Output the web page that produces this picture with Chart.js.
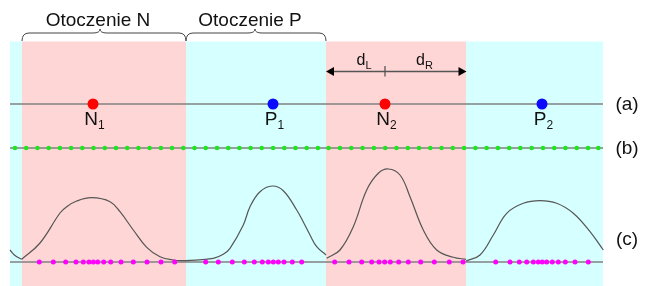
<!DOCTYPE html>
<html>
<head>
<meta charset="utf-8">
<script src="https://cdn.jsdelivr.net/npm/chart.js@4.4.1/dist/chart.umd.min.js"></script>
<style>
  html,body{margin:0;padding:0;background:#fff;}
  #c{display:block;}
</style>
</head>
<body>
<canvas id="c" width="652" height="286"></canvas>
<script>
// diagram space: x 0..652, y 0..286 (top down)
const bandEdges = [10, 22, 186, 326, 466, 603];
const bandKinds = ['P', 'N', 'P', 'N', 'P'];
const rowA = 104, rowB = 148, rowC = 262;

// (a) representatives
const nX = [93, 385];
const nSub = ['1', '2'];
const pX = [273, 542];
const pSub = ['1', '2'];

// (b) regular samples
const greenX = [15.0, 26.2, 37.4, 48.7, 59.9, 71.1, 82.3, 93.5, 104.8, 116.0, 127.2, 138.4, 149.6,
  160.9, 172.1, 183.3, 194.5, 205.7, 217.0, 228.2, 239.4, 250.6, 261.8, 273.1, 284.3, 295.5,
  306.7, 317.9, 328.6, 340.0, 351.3, 362.6, 373.9, 385.2, 396.5, 407.8, 419.0, 430.3, 441.6,
  452.8, 464.1, 475.4, 486.6, 497.9, 509.2, 520.4, 531.7, 543.0, 554.2, 565.5, 576.8, 588.0, 598.3];

// (c) adapted samples
const magentaX = [39.3, 53.3, 65.7, 76, 83.3, 89, 93.3, 97.7, 103.7, 110.7, 121, 133.3, 147, 161, 174.7,
  205.7, 218.3, 232.3, 244.3, 254.3, 262.3, 268.3, 273.3, 278.3, 284, 292.3, 301.7,
  334.7, 349, 361.7, 371.7, 379, 384.7, 390.3, 398.7, 408.3, 420.7, 434.3, 449.3, 463,
  495.7, 510, 519.3, 526.7, 533.3, 538.3, 542.3, 546.7, 552.3, 558.3, 565.3, 575, 588.3];

// density curves, one piece per band
const curveTail = [[10, 250], [15, 255.5], [21.7, 259.3]];
const curve1 = [[21.7, 259.3], [40, 243], [60, 213], [66.7, 206.7], [76.7, 201], [91.7, 197.7], [110, 201.7],
  [120, 211.7], [133.3, 230], [146.7, 247.3], [160, 256.7], [173.3, 260], [186, 260.7]];
const curve2 = [[186, 260.7], [213.3, 258.3], [223.3, 254.3], [230, 248.3], [243.3, 225], [250, 206.7],
  [260, 191.7], [272.3, 186], [283.3, 190.7], [296.7, 210], [303.3, 222], [310, 235], [316.7, 246.7], [326, 255]];
const curve3 = [[326.7, 258.3], [340, 250], [353.3, 226.7], [366.7, 190], [378.3, 173.3], [388.3, 169],
  [400, 175], [410, 196.7], [423.3, 230], [436.7, 250], [453.3, 257.3], [466, 259.3]];
const curve4 = [[466, 261], [480, 255], [493.3, 235], [506.7, 213.3], [523.3, 203.3], [540, 200.7],
  [556.7, 203.3], [573.3, 213.3], [590, 231.7], [603.3, 250]];

const FONT = '"Liberation Sans", Arial, sans-serif';

const pts = (xs, y) => xs.map(x => ({x: x, y: y}));
const xy = arr => arr.map(p => ({x: p[0], y: p[1]}));

function lineDs(data, color, width, order){
  return {type:'line', data:data, borderColor:color, borderWidth:width, pointRadius:0,
    fill:false, tension:0.4, order:order};
}
function dotDs(data, color, r){
  return {type:'scatter', data:data, backgroundColor:color, borderWidth:0, pointRadius:r,
    pointHoverRadius:r, order:0};
}

function subLabel(ctx, main, sub, cx, base, big, small){
  ctx.font = big + 'px ' + FONT;
  const w1 = ctx.measureText(main).width;
  ctx.font = small + 'px ' + FONT;
  const w2 = ctx.measureText(sub).width;
  const x0 = cx - (w1 + w2) / 2;
  ctx.textAlign = 'left'; ctx.textBaseline = 'alphabetic';
  ctx.font = big + 'px ' + FONT; ctx.fillText(main, x0, base);
  ctx.font = small + 'px ' + FONT; ctx.fillText(sub, x0 + w1, base + 4);
}

function brace(ctx, x0, x1, xm, yb, ym, yt){
  const r = 7;
  ctx.beginPath();
  ctx.moveTo(x0, yb);
  ctx.quadraticCurveTo(x0, ym, x0 + r, ym);
  ctx.lineTo(xm - r, ym);
  ctx.quadraticCurveTo(xm, ym, xm, yt);
  ctx.quadraticCurveTo(xm, ym, xm + r, ym);
  ctx.lineTo(x1 - r, ym);
  ctx.quadraticCurveTo(x1, ym, x1, yb);
  ctx.stroke();
}

const diagram = {
  id:'diagram',
  beforeDatasetsDraw(chart){
    const {ctx, scales:{x, y}} = chart;
    ctx.save();
    for(let i = 0; i < bandKinds.length; i++){
      ctx.fillStyle = bandKinds[i] === 'N' ? '#ffd6d6' : '#d6ffff';
      const a = x.getPixelForValue(bandEdges[i]), b = x.getPixelForValue(bandEdges[i + 1]);
      const t = y.getPixelForValue(41.5), B = y.getPixelForValue(286);
      ctx.fillRect(a, t, b - a, B - t);
    }
    ctx.restore();
  },
  afterDatasetsDraw(chart){
    const {ctx, scales:{x, y}} = chart;
    const X = v => x.getPixelForValue(v), Y = v => y.getPixelForValue(v);
    ctx.save();
    ctx.fillStyle = '#111';
    // headings and braces
    ctx.font = '19px ' + FONT; ctx.textAlign = 'center'; ctx.textBaseline = 'alphabetic';
    ctx.fillText('Otoczenie N', X(98), Y(25.5));
    ctx.fillText('Otoczenie P', X(250), Y(25.5));
    ctx.strokeStyle = '#444'; ctx.lineWidth = 1;
    brace(ctx, X(bandEdges[1]), X(bandEdges[2]), X(100), Y(41), Y(33), Y(29));
    brace(ctx, X(bandEdges[2]), X(bandEdges[3]), X(255), Y(41), Y(33), Y(29));
    // point labels
    nX.forEach((v, i) => subLabel(ctx, 'N', nSub[i], X(v) + 1.5, Y(125), 19, 12));
    pX.forEach((v, i) => subLabel(ctx, 'P', pSub[i], X(v) + 1.5, Y(125), 19, 12));
    // d_L / d_R arrow
    const ay = Y(71.5), ax0 = X(bandEdges[3]), ax1 = X(bandEdges[4]) + 0.5;
    ctx.strokeStyle = '#555'; ctx.lineWidth = 1.3;
    ctx.beginPath(); ctx.moveTo(ax0 + 6, ay); ctx.lineTo(ax1 - 6, ay); ctx.stroke();
    ctx.beginPath(); ctx.moveTo(X(nX[1]), Y(66)); ctx.lineTo(X(nX[1]), Y(76.5)); ctx.stroke();
    ctx.fillStyle = '#000';
    ctx.beginPath(); ctx.moveTo(ax0, ay); ctx.lineTo(ax0 + 8, ay - 4.5); ctx.lineTo(ax0 + 8, ay + 4.5); ctx.fill();
    ctx.beginPath(); ctx.moveTo(ax1, ay); ctx.lineTo(ax1 - 8, ay - 4.5); ctx.lineTo(ax1 - 8, ay + 4.5); ctx.fill();
    ctx.fillStyle = '#111';
    subLabel(ctx, 'd', 'L', X(364), Y(65), 16, 11);
    subLabel(ctx, 'd', 'R', X(424.5), Y(65), 16, 11);
    // row tags
    ctx.font = '19px ' + FONT; ctx.textAlign = 'center'; ctx.textBaseline = 'middle';
    ctx.fillText('(a)', X(627), Y(rowA + 1));
    ctx.fillText('(b)', X(627), Y(rowB + 1));
    ctx.fillText('(c)', X(627), Y(240));
    ctx.restore();
  }
};

new Chart(document.getElementById('c'), {
  type:'scatter',
  data:{datasets:[
    dotDs(pts(nX, rowA), '#ff0000', 5.5),
    dotDs(pts(pX, rowA), '#0a0aff', 5.5),
    dotDs(pts(greenX, rowB), '#1ee61e', 2.3),
    dotDs(pts(magentaX, rowC), '#ff00ff', 2.5),
    lineDs(xy(curveTail), '#555', 1.2, 1),
    lineDs(xy(curve1), '#555', 1.2, 1),
    lineDs(xy(curve2), '#555', 1.2, 1),
    lineDs(xy(curve3), '#555', 1.2, 1),
    lineDs(xy(curve4), '#555', 1.2, 1),
    lineDs(pts([bandEdges[0], bandEdges[5]], rowA), '#808080', 1.5, 2),
    lineDs(pts([bandEdges[0], bandEdges[5]], rowB), '#808080', 1.5, 2),
    lineDs(pts([bandEdges[0], bandEdges[5]], rowC), '#808080', 1.5, 2)
  ]},
  options:{
    responsive:false, animation:false, events:[],
    layout:{padding:0, autoPadding:false},
    plugins:{legend:{display:false}, tooltip:{enabled:false}},
    scales:{
      x:{type:'linear', min:0, max:652, display:false},
      y:{type:'linear', min:0, max:286, reverse:true, display:false}
    }
  },
  plugins:[diagram]
});
</script>
</body>
</html>
